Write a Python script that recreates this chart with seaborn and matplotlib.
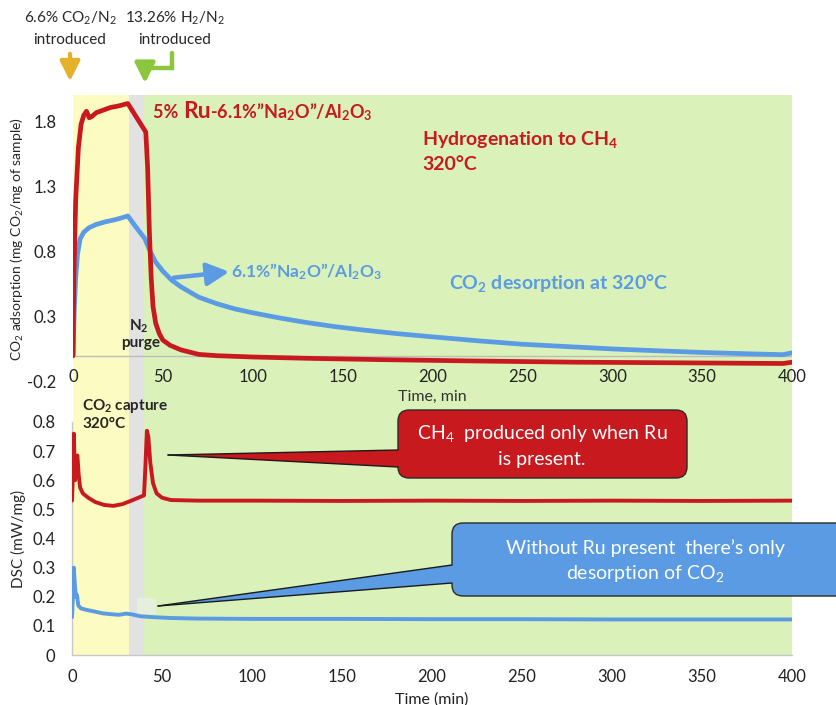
import numpy as np
import pandas as pd
import matplotlib
matplotlib.use("Agg")
import matplotlib.pyplot as plt
import matplotlib.transforms as mtransforms
from matplotlib.patches import Rectangle, FancyBboxPatch, Polygon, FancyArrowPatch
from matplotlib.lines import Line2D
import seaborn as sns

# ---------------- data ----------------
# Top panel: CO2 adsorption (mg CO2 / mg sample) vs time (min)
ru_t = [0, 0.5, 1.5, 3, 4.5, 6, 7.5, 9, 10.5, 13, 17, 21, 25, 30.5, 35.5, 40.5,
        41.5, 42.5, 43.5, 44.5, 46, 48, 50, 54, 60, 70, 80, 100, 130, 170, 220,
        280, 340, 395, 400]
ru_co2 = [0.0, 0.62, 1.2, 1.6, 1.78, 1.85, 1.88, 1.83, 1.84, 1.87, 1.89, 1.91,
          1.92, 1.94, 1.83, 1.72, 1.45, 0.95, 0.6, 0.38, 0.25, 0.17, 0.12, 0.08,
          0.045, 0.01, 0.0, -0.01, -0.02, -0.03, -0.04, -0.05, -0.055, -0.06, -0.05]

na_t = [0, 0.7, 1.5, 2.5, 4, 6, 9, 13, 18, 23, 27, 30.5, 35, 40, 43, 46, 50, 55,
        60, 70, 80, 90, 100, 115, 130, 145, 160, 180, 200, 225, 250, 275, 300,
        325, 350, 375, 395, 400]
na_co2 = [0.0, 0.35, 0.6, 0.78, 0.9, 0.95, 0.985, 1.01, 1.03, 1.045, 1.06, 1.075,
          0.99, 0.9, 0.8, 0.72, 0.65, 0.58, 0.53, 0.45, 0.40, 0.36, 0.33, 0.29,
          0.255, 0.225, 0.2, 0.17, 0.145, 0.115, 0.088, 0.07, 0.052, 0.038, 0.025,
          0.015, 0.008, 0.022]

# Bottom panel: DSC (mW/mg) vs time (min)
ru_dsc_t = [0, 0.5, 1, 1.7, 2.5, 3, 3.7, 4.5, 6, 9, 13, 18, 23, 28, 33, 38, 40,
            40.8, 41.6, 42.4, 43.5, 45, 47, 50, 55, 70, 100, 150, 200, 250, 300,
            350, 400]
ru_dsc = [0.53, 0.62, 0.76, 0.60, 0.68, 0.685, 0.62, 0.575, 0.555, 0.54, 0.525,
          0.515, 0.512, 0.518, 0.53, 0.543, 0.548, 0.65, 0.77, 0.75, 0.66, 0.59,
          0.555, 0.54, 0.532, 0.53, 0.53, 0.529, 0.53, 0.529, 0.53, 0.529, 0.53]

na_dsc_t = [0, 0.5, 1, 1.6, 2.2, 2.8, 3.5, 5, 8, 12, 17, 22, 26, 30, 33, 38, 45,
            55, 70, 100, 150, 200, 250, 300, 350, 400]
na_dsc = [0.13, 0.2, 0.30, 0.24, 0.20, 0.205, 0.17, 0.16, 0.155, 0.15, 0.143,
          0.14, 0.138, 0.142, 0.14, 0.133, 0.13, 0.127, 0.125, 0.124, 0.124,
          0.123, 0.123, 0.122, 0.122, 0.122]

# Stage boundaries (min)
stages = [0, 31, 39.5, 400]
stage_colors = ["#FBFBC2", "#E2E2E2", "#DAF2BA"]

top_ticks = [-0.2, 0.3, 0.8, 1.3, 1.8]
top_ticklabels = ["-0.2", "0.3", "0.8", "1.3", "1.8"]
bot_ticks = [0, 0.1, 0.2, 0.3, 0.4, 0.5, 0.6, 0.7, 0.8]
bot_ticklabels = ["0", "0.1", "0.2", "0.3", "0.4", "0.5", "0.6", "0.7", "0.8"]
x_ticks = [0, 50, 100, 150, 200, 250, 300, 350, 400]

RED = "#C8191E"
BLUE = "#5A9BE3"
GOLD = "#E6B12A"
LGREEN = "#8CC63F"

# ---------------- style ----------------
sns.set_style("white")
plt.rcParams["font.family"] = ["Lato", "DejaVu Sans"]
plt.rcParams["mathtext.fontset"] = "custom"
plt.rcParams["mathtext.rm"] = "Lato"
plt.rcParams["mathtext.it"] = "Lato:italic"
plt.rcParams["mathtext.bf"] = "Lato:bold"
plt.rcParams["axes.unicode_minus"] = False

W, H = 836, 705
fig = plt.figure(figsize=(W / 100, H / 100), dpi=100)
fig.patch.set_facecolor("white")
# pixel (from top-left) transform
T = mtransforms.Affine2D().scale(1 / 100, -1 / 100).translate(0, H / 100) + fig.dpi_scale_trans

ax1 = fig.add_axes([73 / W, 1 - 381.7 / H, 719 / W, 286 / H])
ax2 = fig.add_axes([72 / W, 1 - 655 / H, 720 / W, 233 / H])
for ax in (ax1, ax2):
    ax.set_facecolor("none")
    ax.set_xlim(0, 400)

# background stage shading spanning both panels
bt = mtransforms.blended_transform_factory(ax1.transData, T)
for i, c in enumerate(stage_colors):
    fig.add_artist(Rectangle((stages[i], 95), stages[i + 1] - stages[i], 560,
                             transform=bt, facecolor=c, edgecolor="none", zorder=-10))
fig.add_artist(Rectangle((137, 598), 19, 16, transform=T, facecolor="#E6EEDC",
                         edgecolor="none", zorder=-9))

# ---------------- top panel ----------------
ax1.axhline(0, color="#BDBDBD", lw=1, zorder=1)
sns.lineplot(x=na_t, y=na_co2, ax=ax1, color=BLUE, lw=3.4, zorder=3)
sns.lineplot(x=ru_t, y=ru_co2, ax=ax1, color=RED, lw=3.4, zorder=4)
ax1.set_ylim(-0.2, 2.0)
ax1.set_yticks(top_ticks)
ax1.set_yticklabels(top_ticklabels)
ax1.set_xticks(x_ticks)
ax1.set_xticklabels([str(v) for v in x_ticks])
ax1.tick_params(axis="both", length=0, labelsize=12, colors="#222222")
ax1.tick_params(axis="x", pad=-9)
ax1.tick_params(axis="y", pad=12)
for s in ax1.spines.values():
    s.set_visible(False)
ax1.set_xlabel("Time, min", fontsize=11.5, color="#333333")
ax1.xaxis.set_label_coords(0.5, -0.028)
ax1.set_ylabel(r"CO$_2$ adsorption (mg CO$_2$/mg of sample)", fontsize=10)
ax1.yaxis.set_label_coords(-0.066, 0.5)

# ---------------- bottom panel ----------------
sns.lineplot(x=ru_dsc_t, y=ru_dsc, ax=ax2, color=RED, lw=2.8, zorder=3)
sns.lineplot(x=na_dsc_t, y=na_dsc, ax=ax2, color=BLUE, lw=2.8, zorder=3)
ax2.set_ylim(0, 0.8)
ax2.set_yticks(bot_ticks)
ax2.set_yticklabels(bot_ticklabels)
ax2.set_xticks(x_ticks)
ax2.set_xticklabels([str(v) for v in x_ticks])
ax2.tick_params(axis="both", length=0, labelsize=12, colors="#222222")
ax2.tick_params(axis="x", pad=10)
ax2.tick_params(axis="y", pad=12)
for k in ("top", "right"):
    ax2.spines[k].set_visible(False)
for k in ("left", "bottom"):
    ax2.spines[k].set_color("#C8C8C8")
    ax2.spines[k].set_linewidth(1)
ax2.set_xlabel("Time (min)", fontsize=11.5, color="#222222")
ax2.xaxis.set_label_coords(0.5, -0.16)
ax2.set_ylabel("DSC (mW/mg)", fontsize=11)
ax2.yaxis.set_label_coords(-0.064, 0.5)

# ---------------- annotations ----------------
def ftext(x, y, s, **kw):
    kw.setdefault("transform", T)
    kw.setdefault("zorder", 6)
    return fig.text(x, y, s, **kw)

ftext(70, 18, r"6.6% CO$_2$/N$_2$", ha="center", va="center", fontsize=11)
ftext(70, 40, "introduced", ha="center", va="center", fontsize=11)
ftext(175, 18, r"13.26% H$_2$/N$_2$", ha="center", va="center", fontsize=11)
ftext(175, 40, "introduced", ha="center", va="center", fontsize=11)

AST = "-|>,head_length=4,head_width=2.0"
fig.add_artist(FancyArrowPatch((70, 51), (70, 84), transform=T, arrowstyle=AST,
                               color=GOLD, lw=3, mutation_scale=3, zorder=6))
fig.add_artist(Line2D([172, 172, 145], [53, 68, 68], transform=T, color=LGREEN, lw=3.2,
                      solid_joinstyle="miter", zorder=6))
fig.add_artist(FancyArrowPatch((145, 66.5), (145, 86), transform=T, arrowstyle=AST,
                               color=LGREEN, lw=3.2, mutation_scale=3, zorder=6))

# sample label with a larger "Ru"
renderer = fig.canvas.get_renderer()
inv = T.inverted()
parts = [("5% ", 13), ("Ru", 16.5), (r"-6.1%”Na$_\mathbf{2}$O”/Al$_\mathbf{2}$O$_\mathbf{3}$", 13)]
xcur = 153
for s, fs in parts:
    t = ftext(xcur, 118, s, ha="left", va="baseline", fontsize=fs, fontweight="bold", color=RED)
    bb = t.get_window_extent(renderer)
    xcur = inv.transform((bb.x1, bb.y0))[0]

ftext(422, 145, r"Hydrogenation to CH$_\mathbf{4}$", ha="left", va="baseline", fontsize=14,
      fontweight="bold", color=RED)
ftext(422, 170, "320°C", ha="left", va="baseline", fontsize=14, fontweight="bold", color=RED)

fig.add_artist(FancyArrowPatch((171, 278), (232, 271.5), transform=T,
                               arrowstyle="-|>,head_length=4.5,head_width=2.3",
                               color=BLUE, lw=3.2, mutation_scale=3, zorder=6))
ftext(231, 277, r"6.1%”Na$_\mathbf{2}$O”/Al$_\mathbf{2}$O$_\mathbf{3}$", ha="left", va="baseline",
      fontsize=12.5, fontweight="bold", color=BLUE)
ftext(449, 289, r"CO$_\mathbf{2}$ desorption at 320°C", ha="left", va="baseline", fontsize=14,
      fontweight="bold", color=BLUE)

ftext(139, 326, r"N$_\mathbf{2}$", ha="center", va="center", fontsize=11, fontweight="bold")
ftext(141, 343, "purge", ha="center", va="center", fontsize=11, fontweight="bold")
ftext(82, 406, r"CO$_\mathbf{2}$ capture", ha="left", va="center", fontsize=11, fontweight="bold")
ftext(82, 424, "320°C", ha="left", va="center", fontsize=11, fontweight="bold")

# callouts
def callout(box, tip, attach, color, lines, text_center):
    x0, y0, x1, y1 = box
    fig.add_artist(FancyBboxPatch((x0, y0), x1 - x0, y1 - y0, transform=T,
                                  boxstyle="round,pad=0,rounding_size=11",
                                  facecolor=color, edgecolor="#2A2A2A", lw=1, zorder=7))
    (ax_, ya), (ax_b, yb) = attach
    fig.add_artist(Polygon([tip, (ax_, ya), (ax_ + 8, ya), (ax_ + 8, yb), (ax_b, yb)], closed=True,
                           transform=T, facecolor=color, edgecolor="none", zorder=8))
    fig.add_artist(Line2D([tip[0], ax_], [tip[1], ya], transform=T, color="#1A1A1A", lw=1, zorder=9))
    fig.add_artist(Line2D([tip[0], ax_b], [tip[1], yb], transform=T, color="#1A1A1A", lw=1, zorder=9))
    cx, cy = text_center
    for i, s in enumerate(lines):
        ftext(cx, cy + i * 26, s, ha="center", va="center", fontsize=14, color="white", zorder=10)

callout((398, 410, 687, 478), (168, 455), ((398, 450), (398, 467)), RED,
        [r"CH$_4$  produced only when Ru", "is present."], (542, 433))
callout((452, 523, 850, 596), (158, 606), ((452, 565), (452, 583)), BLUE,
        ["Without Ru present  there’s only", r"desorption of CO$_2$"], (645, 548))

fig.savefig("out.png", dpi=100)
